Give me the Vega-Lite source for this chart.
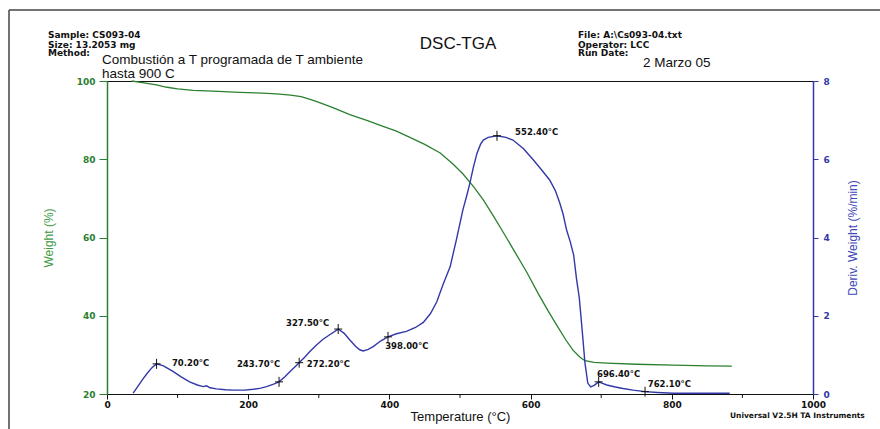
{
  "$schema": "https://vega.github.io/schema/vega-lite/v6.json",
  "width": 706,
  "height": 313,
  "autosize": "none",
  "padding": {"left": 107, "top": 81, "right": 67, "bottom": 35},
  "background": "white",
  "config": {
    "view": {"stroke": "#111111", "strokeWidth": 1},
    "font": "Liberation Sans"
  },
  "datasets": {
    "weight": [
      {"T": 35, "w": 100}, {"T": 50, "w": 99.6}, {"T": 70, "w": 99}, {"T": 85, "w": 98.4},
      {"T": 100, "w": 98}, {"T": 122, "w": 97.6}, {"T": 150, "w": 97.4}, {"T": 188, "w": 97.1},
      {"T": 220, "w": 96.9}, {"T": 240, "w": 96.7}, {"T": 260, "w": 96.4}, {"T": 275, "w": 96},
      {"T": 290, "w": 95.2}, {"T": 302, "w": 94.4}, {"T": 320, "w": 93.2}, {"T": 344, "w": 91.4},
      {"T": 370, "w": 89.8}, {"T": 391, "w": 88.4}, {"T": 410, "w": 87.2}, {"T": 429, "w": 85.6},
      {"T": 450, "w": 83.8}, {"T": 472, "w": 81.6}, {"T": 490, "w": 78.8}, {"T": 504, "w": 76.3},
      {"T": 520, "w": 72.8}, {"T": 533, "w": 69.6}, {"T": 547, "w": 65.6}, {"T": 561, "w": 61.4},
      {"T": 578, "w": 56.2}, {"T": 595, "w": 51}, {"T": 611, "w": 45.6}, {"T": 625, "w": 41.2},
      {"T": 637, "w": 37.6}, {"T": 650, "w": 33.8}, {"T": 660, "w": 31.2}, {"T": 670, "w": 29.4},
      {"T": 677, "w": 28.5}, {"T": 690, "w": 28.1}, {"T": 708, "w": 27.9}, {"T": 750, "w": 27.6},
      {"T": 802, "w": 27.4}, {"T": 850, "w": 27.2}, {"T": 885, "w": 27.1}
    ],
    "deriv": [
      {"T": 37, "d": 0.02}, {"T": 42, "d": 0.15}, {"T": 50, "d": 0.36}, {"T": 57, "d": 0.53},
      {"T": 64, "d": 0.68}, {"T": 70.2, "d": 0.77}, {"T": 80, "d": 0.72}, {"T": 94, "d": 0.57},
      {"T": 105, "d": 0.44}, {"T": 117, "d": 0.31}, {"T": 128, "d": 0.23}, {"T": 136, "d": 0.19},
      {"T": 141, "d": 0.21}, {"T": 146, "d": 0.16}, {"T": 155, "d": 0.13}, {"T": 168, "d": 0.11},
      {"T": 179, "d": 0.1}, {"T": 195, "d": 0.1}, {"T": 207, "d": 0.12}, {"T": 218, "d": 0.15},
      {"T": 226, "d": 0.19}, {"T": 236, "d": 0.25}, {"T": 243.7, "d": 0.31}, {"T": 252, "d": 0.44},
      {"T": 259, "d": 0.57}, {"T": 266, "d": 0.69}, {"T": 272.2, "d": 0.8}, {"T": 280, "d": 0.94},
      {"T": 287, "d": 1.08}, {"T": 296, "d": 1.24}, {"T": 306, "d": 1.4}, {"T": 316, "d": 1.52},
      {"T": 327.5, "d": 1.66}, {"T": 336, "d": 1.55}, {"T": 344, "d": 1.38}, {"T": 352, "d": 1.22},
      {"T": 358, "d": 1.13}, {"T": 363, "d": 1.1}, {"T": 370, "d": 1.14}, {"T": 377, "d": 1.21},
      {"T": 388, "d": 1.36}, {"T": 398, "d": 1.46}, {"T": 410, "d": 1.54}, {"T": 424, "d": 1.6},
      {"T": 437, "d": 1.7}, {"T": 448, "d": 1.83}, {"T": 458, "d": 2.05}, {"T": 467, "d": 2.35},
      {"T": 476, "d": 2.8}, {"T": 486, "d": 3.25}, {"T": 495, "d": 3.95}, {"T": 504, "d": 4.7},
      {"T": 510, "d": 5.1}, {"T": 514, "d": 5.39}, {"T": 519, "d": 5.8}, {"T": 524, "d": 6.15},
      {"T": 529, "d": 6.38}, {"T": 533, "d": 6.49}, {"T": 540, "d": 6.56}, {"T": 552.4, "d": 6.6},
      {"T": 565, "d": 6.56}, {"T": 575, "d": 6.49}, {"T": 590, "d": 6.27}, {"T": 604, "d": 5.98},
      {"T": 616, "d": 5.72}, {"T": 627, "d": 5.47}, {"T": 635, "d": 5.2}, {"T": 641, "d": 4.9},
      {"T": 646, "d": 4.6}, {"T": 651, "d": 4.19}, {"T": 656, "d": 3.9}, {"T": 661, "d": 3.55},
      {"T": 665, "d": 2.95}, {"T": 669, "d": 2.45}, {"T": 673, "d": 1.64}, {"T": 677, "d": 0.79},
      {"T": 681, "d": 0.28}, {"T": 685, "d": 0.18}, {"T": 690, "d": 0.22}, {"T": 696.4, "d": 0.31},
      {"T": 702, "d": 0.27}, {"T": 708, "d": 0.23}, {"T": 720, "d": 0.18}, {"T": 731, "d": 0.14},
      {"T": 745, "d": 0.1}, {"T": 762.1, "d": 0.06}, {"T": 780, "d": 0.04}, {"T": 802, "d": 0.02},
      {"T": 840, "d": 0.02}, {"T": 882, "d": 0.02}
    ],
    "peaks": [
      {"T": 70.2, "d": 0.77, "label": "70.20°C", "lT": 92, "lD": 0.79},
      {"T": 243.7, "d": 0.31, "label": "243.70°C", "lT": 184, "lD": 0.77},
      {"T": 272.2, "d": 0.8, "label": "272.20°C", "lT": 283, "lD": 0.77},
      {"T": 327.5, "d": 1.66, "label": "327.50°C", "lT": 253.5, "lD": 1.81},
      {"T": 398.0, "d": 1.46, "label": "398.00°C", "lT": 394, "lD": 1.23},
      {"T": 552.4, "d": 6.6, "label": "552.40°C", "lT": 578, "lD": 6.7},
      {"T": 696.4, "d": 0.31, "label": "696.40°C", "lT": 694, "lD": 0.51},
      {"T": 762.1, "d": 0.06, "label": "762.10°C", "lT": 766, "lD": 0.26}
    ],
    "header": [
      {"kind": "small", "text": "Sample: CS093-04", "T": -83.6, "w": 111.76},
      {"kind": "small", "text": "Size:  13.2053 mg", "T": -83.6, "w": 109.2},
      {"kind": "small", "text": "Method:", "T": -83.6, "w": 107.03},
      {"kind": "small", "text": "File: A:\\Cs093-04.txt", "T": 667.1, "w": 111.76},
      {"kind": "small", "text": "Operator: LCC", "T": 667.1, "w": 109.2},
      {"kind": "small", "text": "Run Date:", "T": 667.1, "w": 107.03},
      {"kind": "big", "text": "Combustión a T programada de T ambiente", "T": -7.1, "w": 104.22},
      {"kind": "big", "text": "hasta 900 C", "T": -7.1, "w": 100.77},
      {"kind": "big", "text": "2 Marzo 05", "T": 759.2, "w": 103.6},
      {"kind": "title", "text": "DSC-TGA", "T": 497.2, "w": 109.46},
      {"kind": "footer", "text": "Universal V2.5H TA Instruments", "T": 882.4, "w": 14.38}
    ],
    "border": [
      {"T1": -138.8, "T2": 1100, "w1": 118.15, "w2": 118.15},
      {"T1": -138.8, "T2": -138.8, "w1": 118.15, "w2": 0}
    ],
    "minor": [
      {"T": 100}, {"T": 300}, {"T": 500}, {"T": 700}, {"T": 900}
    ]
  },
  "layer": [
    {
      "data": {"name": "weight"},
      "mark": {"type": "line", "color": "#2b8030", "strokeWidth": 1.3},
      "encoding": {
        "x": {
          "field": "T", "type": "quantitative",
          "scale": {"domain": [0, 1000], "nice": false, "zero": false},
          "axis": {
            "values": [0, 200, 400, 600, 800, 1000], "format": "d", "grid": false,
            "domainColor": "#111111", "tickColor": "#111111", "tickSize": 5,
            "labelFont": "DejaVu Sans", "labelFontWeight": "bold", "labelFontSize": 9,
            "labelColor": "#111111", "labelPadding": 1, "labelFlush": false,
            "title": "Temperature (°C)", "titleFont": "Liberation Sans", "titleFontSize": 13,
            "titleFontWeight": "normal", "titleColor": "#111111",
            "titleX": 353, "titleY": 22, "titleBaseline": "middle", "titleAlign": "center"
          }
        },
        "y": {
          "field": "w", "type": "quantitative",
          "scale": {"domain": [20, 100], "nice": false, "zero": false},
          "axis": {
            "orient": "left", "values": [20, 40, 60, 80, 100], "grid": false,
            "domainColor": "#2b8030", "domainWidth": 1.5, "tickColor": "#2b8030", "tickSize": 8,
            "labelFont": "DejaVu Sans", "labelFontWeight": "bold", "labelFontSize": 9,
            "labelColor": "#2b8030", "labelPadding": 4,
            "title": "Weight (%)", "titleFont": "Liberation Sans", "titleFontSize": 12,
            "titleFontWeight": "normal", "titleColor": "#3f9a45", "titleAngle": -90,
            "titleX": -59, "titleY": 156.5, "titleBaseline": "middle", "titleAlign": "center"
          }
        }
      }
    },
    {
      "data": {"name": "deriv"},
      "mark": {"type": "line", "color": "#3238a8", "strokeWidth": 1.4},
      "encoding": {
        "x": {"field": "T", "type": "quantitative", "scale": {"domain": [0, 1000], "nice": false, "zero": false}},
        "y": {
          "field": "d", "type": "quantitative",
          "scale": {"domain": [0, 8], "nice": false, "zero": false},
          "axis": {
            "orient": "right", "values": [0, 2, 4, 6, 8], "grid": false,
            "domainColor": "#3238a8", "domainWidth": 1.5, "tickColor": "#3238a8", "tickSize": 5,
            "labelFont": "DejaVu Sans", "labelFontWeight": "bold", "labelFontSize": 9,
            "labelColor": "#3238a8", "labelPadding": 5,
            "title": "Deriv. Weight (%/min)", "titleFont": "Liberation Sans", "titleFontSize": 12,
            "titleFontWeight": "normal", "titleColor": "#4048b8", "titleAngle": -90,
            "titleX": 39, "titleY": 156.5, "titleBaseline": "middle", "titleAlign": "center"
          }
        }
      }
    },
    {
      "data": {"name": "peaks"},
      "mark": {"type": "point", "shape": "M-0.8,0L0.8,0M0,-1L0,1", "filled": false, "stroke": "#111111", "strokeWidth": 1, "size": 100, "opacity": 1},
      "encoding": {
        "x": {"field": "T", "type": "quantitative", "scale": {"domain": [0, 1000], "nice": false, "zero": false}},
        "y": {"field": "d", "type": "quantitative", "scale": {"domain": [0, 8], "nice": false, "zero": false}, "axis": null}
      }
    },
    {
      "data": {"name": "peaks"},
      "mark": {"type": "text", "align": "left", "baseline": "middle", "font": "DejaVu Sans", "fontWeight": "bold", "fontSize": 8.5, "color": "#111111"},
      "encoding": {
        "x": {"field": "lT", "type": "quantitative", "scale": {"domain": [0, 1000], "nice": false, "zero": false}},
        "y": {"field": "lD", "type": "quantitative", "scale": {"domain": [0, 8], "nice": false, "zero": false}, "axis": null},
        "text": {"field": "label"}
      }
    },
    {
      "data": {"name": "header"},
      "transform": [{"filter": "datum.kind === 'small'"}],
      "mark": {"type": "text", "align": "left", "baseline": "middle", "font": "DejaVu Sans", "fontWeight": "bold", "fontSize": 9, "color": "#111111"},
      "encoding": {
        "x": {"field": "T", "type": "quantitative", "scale": {"domain": [0, 1000], "nice": false, "zero": false}},
        "y": {"field": "w", "type": "quantitative", "scale": {"domain": [20, 100], "nice": false, "zero": false}, "axis": null},
        "text": {"field": "text"}
      }
    },
    {
      "data": {"name": "header"},
      "transform": [{"filter": "datum.kind === 'big'"}],
      "mark": {"type": "text", "align": "left", "baseline": "alphabetic", "font": "Liberation Sans", "fontSize": 13.5, "color": "#111111"},
      "encoding": {
        "x": {"field": "T", "type": "quantitative", "scale": {"domain": [0, 1000], "nice": false, "zero": false}},
        "y": {"field": "w", "type": "quantitative", "scale": {"domain": [20, 100], "nice": false, "zero": false}, "axis": null},
        "text": {"field": "text"}
      }
    },
    {
      "data": {"name": "header"},
      "transform": [{"filter": "datum.kind === 'title'"}],
      "mark": {"type": "text", "align": "center", "baseline": "middle", "font": "Liberation Sans", "fontSize": 17, "color": "#111111"},
      "encoding": {
        "x": {"field": "T", "type": "quantitative", "scale": {"domain": [0, 1000], "nice": false, "zero": false}},
        "y": {"field": "w", "type": "quantitative", "scale": {"domain": [20, 100], "nice": false, "zero": false}, "axis": null},
        "text": {"field": "text"}
      }
    },
    {
      "data": {"name": "header"},
      "transform": [{"filter": "datum.kind === 'footer'"}],
      "mark": {"type": "text", "align": "left", "baseline": "middle", "font": "DejaVu Sans", "fontWeight": "bold", "fontSize": 7.5, "color": "#111111"},
      "encoding": {
        "x": {"field": "T", "type": "quantitative", "scale": {"domain": [0, 1000], "nice": false, "zero": false}},
        "y": {"field": "w", "type": "quantitative", "scale": {"domain": [20, 100], "nice": false, "zero": false}, "axis": null},
        "text": {"field": "text"}
      }
    },
    {
      "data": {"name": "border"},
      "mark": {"type": "rule", "color": "#444444", "strokeWidth": 1.5},
      "encoding": {
        "x": {"field": "T1", "type": "quantitative", "scale": {"domain": [0, 1000], "nice": false, "zero": false}},
        "x2": {"field": "T2"},
        "y": {"field": "w1", "type": "quantitative", "scale": {"domain": [20, 100], "nice": false, "zero": false}, "axis": null},
        "y2": {"field": "w2"}
      }
    },
    {
      "data": {"name": "minor"},
      "mark": {"type": "rule", "color": "#111111", "strokeWidth": 1},
      "encoding": {
        "x": {"field": "T", "type": "quantitative", "scale": {"domain": [0, 1000], "nice": false, "zero": false}},
        "y": {"datum": 20, "type": "quantitative", "scale": {"domain": [20, 100], "nice": false, "zero": false}, "axis": null},
        "y2": {"datum": 19}
      }
    }
  ],
  "resolve": {"scale": {"y": "independent"}}
}
